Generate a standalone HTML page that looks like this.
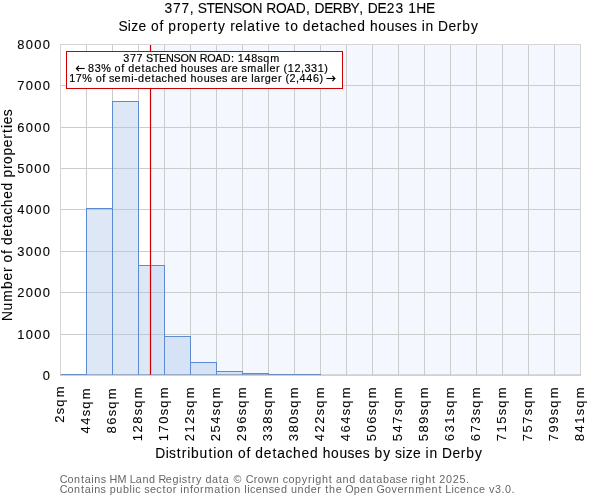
<!DOCTYPE html>
<html><head><meta charset="utf-8"><style>
html,body{margin:0;padding:0;background:#ffffff;}
body{width:600px;height:500px;overflow:hidden;}
svg{display:block;font-family:"Liberation Sans", sans-serif;will-change:transform;}
</style></head><body>
<svg width="600" height="500" viewBox="0 0 600 500">
<rect x="60" y="44" width="520" height="331" fill="#ffffff"/>
<rect x="151.0" y="44" width="429.0" height="331" fill="#f4f7fd"/>
<line x1="60" x2="580" y1="44.5" y2="44.5" stroke="#cccccc" stroke-width="1"/>
<line x1="60" x2="580" y1="85.5" y2="85.5" stroke="#cccccc" stroke-width="1"/>
<line x1="60" x2="580" y1="127.5" y2="127.5" stroke="#cccccc" stroke-width="1"/>
<line x1="60" x2="580" y1="168.5" y2="168.5" stroke="#cccccc" stroke-width="1"/>
<line x1="60" x2="580" y1="209.5" y2="209.5" stroke="#cccccc" stroke-width="1"/>
<line x1="60" x2="580" y1="251.5" y2="251.5" stroke="#cccccc" stroke-width="1"/>
<line x1="60" x2="580" y1="292.5" y2="292.5" stroke="#cccccc" stroke-width="1"/>
<line x1="60" x2="580" y1="334.5" y2="334.5" stroke="#cccccc" stroke-width="1"/>
<line x1="60.5" x2="60.5" y1="44" y2="375" stroke="#cccccc" stroke-width="1"/>
<line x1="86.5" x2="86.5" y1="44" y2="375" stroke="#cccccc" stroke-width="1"/>
<line x1="112.5" x2="112.5" y1="44" y2="375" stroke="#cccccc" stroke-width="1"/>
<line x1="138.5" x2="138.5" y1="44" y2="375" stroke="#cccccc" stroke-width="1"/>
<line x1="164.5" x2="164.5" y1="44" y2="375" stroke="#cccccc" stroke-width="1"/>
<line x1="190.5" x2="190.5" y1="44" y2="375" stroke="#cccccc" stroke-width="1"/>
<line x1="216.5" x2="216.5" y1="44" y2="375" stroke="#cccccc" stroke-width="1"/>
<line x1="242.5" x2="242.5" y1="44" y2="375" stroke="#cccccc" stroke-width="1"/>
<line x1="268.5" x2="268.5" y1="44" y2="375" stroke="#cccccc" stroke-width="1"/>
<line x1="294.5" x2="294.5" y1="44" y2="375" stroke="#cccccc" stroke-width="1"/>
<line x1="320.5" x2="320.5" y1="44" y2="375" stroke="#cccccc" stroke-width="1"/>
<line x1="346.5" x2="346.5" y1="44" y2="375" stroke="#cccccc" stroke-width="1"/>
<line x1="372.5" x2="372.5" y1="44" y2="375" stroke="#cccccc" stroke-width="1"/>
<line x1="398.5" x2="398.5" y1="44" y2="375" stroke="#cccccc" stroke-width="1"/>
<line x1="424.5" x2="424.5" y1="44" y2="375" stroke="#cccccc" stroke-width="1"/>
<line x1="450.5" x2="450.5" y1="44" y2="375" stroke="#cccccc" stroke-width="1"/>
<line x1="476.5" x2="476.5" y1="44" y2="375" stroke="#cccccc" stroke-width="1"/>
<line x1="502.5" x2="502.5" y1="44" y2="375" stroke="#cccccc" stroke-width="1"/>
<line x1="528.5" x2="528.5" y1="44" y2="375" stroke="#cccccc" stroke-width="1"/>
<line x1="554.5" x2="554.5" y1="44" y2="375" stroke="#cccccc" stroke-width="1"/>
<line x1="580.5" x2="580.5" y1="44" y2="375" stroke="#cccccc" stroke-width="1"/>
<rect x="60.5" y="374.5" width="26" height="0.5" fill="rgba(170,195,232,0.40)" stroke="#5b8bd0" stroke-width="1"/>
<rect x="86.5" y="208.5" width="26" height="166.5" fill="rgba(170,195,232,0.40)" stroke="#5b8bd0" stroke-width="1"/>
<rect x="112.5" y="101.5" width="26" height="273.5" fill="rgba(170,195,232,0.40)" stroke="#5b8bd0" stroke-width="1"/>
<rect x="138.5" y="265.5" width="26" height="109.5" fill="rgba(170,195,232,0.40)" stroke="#5b8bd0" stroke-width="1"/>
<rect x="164.5" y="336.5" width="26" height="38.5" fill="rgba(170,195,232,0.40)" stroke="#5b8bd0" stroke-width="1"/>
<rect x="190.5" y="362.5" width="26" height="12.5" fill="rgba(170,195,232,0.40)" stroke="#5b8bd0" stroke-width="1"/>
<rect x="216.5" y="371.5" width="26" height="3.5" fill="rgba(170,195,232,0.40)" stroke="#5b8bd0" stroke-width="1"/>
<rect x="242.5" y="373.5" width="26" height="1.5" fill="rgba(170,195,232,0.40)" stroke="#5b8bd0" stroke-width="1"/>
<rect x="268.5" y="374.5" width="26" height="0.5" fill="rgba(170,195,232,0.40)" stroke="#5b8bd0" stroke-width="1"/>
<rect x="294.5" y="374.5" width="26" height="0.5" fill="rgba(170,195,232,0.40)" stroke="#5b8bd0" stroke-width="1"/>
<line x1="150.5" x2="150.5" y1="44" y2="376" stroke="#cc0000" stroke-width="1.2"/>
<line x1="60.5" x2="60.5" y1="44" y2="376" stroke="#d5d5d5" stroke-width="1"/>
<line x1="580.5" x2="580.5" y1="44" y2="376" stroke="#d5d5d5" stroke-width="1"/>
<line x1="60" x2="581" y1="44.5" y2="44.5" stroke="#d5d5d5" stroke-width="1"/>
<line x1="60" x2="581" y1="375.5" y2="375.5" stroke="#d0d0d0" stroke-width="1"/>
<line x1="60" x2="581" y1="374.5" y2="374.5" stroke="rgba(150,150,150,0.3)" stroke-width="1"/>
<rect x="66.5" y="51.5" width="276" height="37" fill="#ffffff" stroke="#cc0000" stroke-width="1"/>
<text x="123.24 129.92 136.60 146.01 152.85 159.07 166.02 173.58 180.44 188.80 199.72 207.20 215.33 222.67 230.88 237.82 244.50 251.18 257.56 263.33 270.28" y="61.5" font-size="10.8" fill="#000000" stroke="#000000" stroke-width="0.18">377STENSONROAD:148sqm</text>
<text x="88.06 94.74 101.27 114.60 121.17 128.18 134.74 141.53 145.31 151.71 157.62 164.18 170.74 180.74 187.28 193.81 200.18 205.84 212.11 221.09 227.67 231.63 241.23 247.28 257.11 263.59 266.50 269.39 275.98 283.52 287.71 294.39 300.90 304.40 311.08 317.76 324.36" y="71.5" font-size="10.8" fill="#000000" stroke="#000000" stroke-width="0.18">83%ofdetachedhousesaresmaller(12,331)</text>
<text x="69.18 75.85 82.37 95.69 102.25 108.96 114.62 121.45 131.32 134.07 138.08 144.64 151.42 155.19 161.59 167.49 174.04 180.59 190.58 197.11 203.64 210.00 215.65 221.91 230.89 237.46 241.41 251.23 254.09 260.67 264.76 271.32 277.90 285.44 289.61 296.12 299.62 306.29 312.96 319.55" y="81.5" font-size="10.8" fill="#000000" stroke="#000000" stroke-width="0.18">17%ofsemi-detachedhousesarelarger(2,446)</text>
<path d="M84.7 68.5 H77.2" stroke="#000000" stroke-width="1.1" fill="none"/>
<path d="M78.9 65.9 L76.4 68.5 L78.9 71.1" stroke="#000000" stroke-width="1.2" fill="none"/>
<path d="M326.4 78.5 H334" stroke="#000000" stroke-width="1.1" fill="none"/>
<path d="M332.4 75.9 L334.9 78.5 L332.4 81.1" stroke="#000000" stroke-width="1.2" fill="none"/>
<text x="164.41 172.94 181.47 189.79 197.76 206.49 214.44 223.31 232.96 241.73 252.41 266.35 275.90 286.30 295.67 306.03 314.52 324.30 332.81 342.45 350.42 359.33 367.82 377.60 386.87 395.40 408.20 416.36 426.02" y="12.8" font-size="13.8" fill="#000000" stroke="#000000" stroke-width="0.1">377,STENSONROAD,DERBY,DE231HE</text>
<text x="118.57 127.77 131.24 138.51 151.01 159.40 168.37 176.93 181.97 190.33 198.73 207.16 212.93 218.00 230.15 235.21 243.51 247.18 255.85 260.73 264.65 272.36 285.31 290.13 302.77 311.16 319.84 324.67 332.86 340.42 348.80 357.19 369.98 378.34 386.70 394.84 402.08 410.09 421.64 425.46 438.00 448.45 456.87 462.36 470.98" y="30.8" font-size="13.8" fill="#000000" stroke="#000000" stroke-width="0.1">SizeofpropertyrelativetodetachedhousesinDerby</text>
<text x="17.21 25.70 34.18 42.66" y="49" font-size="12.9" fill="#000000" stroke="#000000" stroke-width="0.1">8000</text>
<text x="17.21 25.70 34.18 42.66" y="90" font-size="12.9" fill="#000000" stroke="#000000" stroke-width="0.1">7000</text>
<text x="17.21 25.70 34.18 42.66" y="132" font-size="12.9" fill="#000000" stroke="#000000" stroke-width="0.1">6000</text>
<text x="17.21 25.70 34.18 42.66" y="173" font-size="12.9" fill="#000000" stroke="#000000" stroke-width="0.1">5000</text>
<text x="17.21 25.70 34.18 42.66" y="214" font-size="12.9" fill="#000000" stroke="#000000" stroke-width="0.1">4000</text>
<text x="17.21 25.70 34.18 42.66" y="256" font-size="12.9" fill="#000000" stroke="#000000" stroke-width="0.1">3000</text>
<text x="17.21 25.70 34.18 42.66" y="297" font-size="12.9" fill="#000000" stroke="#000000" stroke-width="0.1">2000</text>
<text x="17.21 25.70 34.18 42.66" y="339" font-size="12.9" fill="#000000" stroke="#000000" stroke-width="0.1">1000</text>
<text x="42.66" y="380" font-size="12.9" fill="#000000" stroke="#000000" stroke-width="0.1">0</text>
<text transform="translate(63.5,422.51955566406247) rotate(-90)" x="-0.20 8.18 15.82 25.18" y="0" font-size="12.9" fill="#000000" stroke="#000000" stroke-width="0.1">2sqm</text>
<text transform="translate(89.5,433.669482421875) rotate(-90)" x="0.14 8.95 17.33 24.97 34.33" y="0" font-size="12.9" fill="#000000" stroke="#000000" stroke-width="0.1">44sqm</text>
<text transform="translate(115.5,433.4057373046875) rotate(-90)" x="-0.12 8.69 17.07 24.71 34.06" y="0" font-size="12.9" fill="#000000" stroke="#000000" stroke-width="0.1">86sqm</text>
<text transform="translate(141.5,440.63593749999995) rotate(-90)" x="-0.70 8.11 16.92 25.30 32.94 42.29" y="0" font-size="12.9" fill="#000000" stroke="#000000" stroke-width="0.1">128sqm</text>
<text transform="translate(167.5,440.63593749999995) rotate(-90)" x="-0.70 8.11 16.92 25.30 32.94 42.29" y="0" font-size="12.9" fill="#000000" stroke="#000000" stroke-width="0.1">170sqm</text>
<text transform="translate(193.5,441.14313964843745) rotate(-90)" x="-0.20 8.62 17.43 25.80 33.45 42.80" y="0" font-size="12.9" fill="#000000" stroke="#000000" stroke-width="0.1">212sqm</text>
<text transform="translate(219.5,441.14313964843745) rotate(-90)" x="-0.20 8.62 17.43 25.80 33.45 42.80" y="0" font-size="12.9" fill="#000000" stroke="#000000" stroke-width="0.1">254sqm</text>
<text transform="translate(245.5,441.14313964843745) rotate(-90)" x="-0.20 8.62 17.43 25.80 33.45 42.80" y="0" font-size="12.9" fill="#000000" stroke="#000000" stroke-width="0.1">296sqm</text>
<text transform="translate(271.5,441.10256347656247) rotate(-90)" x="-0.24 8.58 17.39 25.76 33.40 42.76" y="0" font-size="12.9" fill="#000000" stroke="#000000" stroke-width="0.1">338sqm</text>
<text transform="translate(297.5,441.10256347656247) rotate(-90)" x="-0.24 8.58 17.39 25.76 33.40 42.76" y="0" font-size="12.9" fill="#000000" stroke="#000000" stroke-width="0.1">380sqm</text>
<text transform="translate(323.5,441.48127441406245) rotate(-90)" x="0.14 8.95 17.77 26.14 33.78 43.14" y="0" font-size="12.9" fill="#000000" stroke="#000000" stroke-width="0.1">422sqm</text>
<text transform="translate(349.5,441.48127441406245) rotate(-90)" x="0.14 8.95 17.77 26.14 33.78 43.14" y="0" font-size="12.9" fill="#000000" stroke="#000000" stroke-width="0.1">464sqm</text>
<text transform="translate(375.5,441.0890380859375) rotate(-90)" x="-0.25 8.56 17.37 25.75 33.39 42.75" y="0" font-size="12.9" fill="#000000" stroke="#000000" stroke-width="0.1">506sqm</text>
<text transform="translate(401.5,441.0890380859375) rotate(-90)" x="-0.25 8.56 17.37 25.75 33.39 42.75" y="0" font-size="12.9" fill="#000000" stroke="#000000" stroke-width="0.1">547sqm</text>
<text transform="translate(427.5,441.0890380859375) rotate(-90)" x="-0.25 8.56 17.37 25.75 33.39 42.75" y="0" font-size="12.9" fill="#000000" stroke="#000000" stroke-width="0.1">589sqm</text>
<text transform="translate(453.5,441.190478515625) rotate(-90)" x="-0.15 8.66 17.48 25.85 33.49 42.85" y="0" font-size="12.9" fill="#000000" stroke="#000000" stroke-width="0.1">631sqm</text>
<text transform="translate(479.5,441.190478515625) rotate(-90)" x="-0.15 8.66 17.48 25.85 33.49 42.85" y="0" font-size="12.9" fill="#000000" stroke="#000000" stroke-width="0.1">673sqm</text>
<text transform="translate(505.5,441.0214111328125) rotate(-90)" x="-0.32 8.49 17.31 25.68 33.32 42.68" y="0" font-size="12.9" fill="#000000" stroke="#000000" stroke-width="0.1">715sqm</text>
<text transform="translate(531.5,441.0214111328125) rotate(-90)" x="-0.32 8.49 17.31 25.68 33.32 42.68" y="0" font-size="12.9" fill="#000000" stroke="#000000" stroke-width="0.1">757sqm</text>
<text transform="translate(557.5,441.0214111328125) rotate(-90)" x="-0.32 8.49 17.31 25.68 33.32 42.68" y="0" font-size="12.9" fill="#000000" stroke="#000000" stroke-width="0.1">799sqm</text>
<text transform="translate(583.5,441.217529296875) rotate(-90)" x="-0.12 8.69 17.50 25.88 33.52 42.88" y="0" font-size="12.9" fill="#000000" stroke="#000000" stroke-width="0.1">841sqm</text>
<text x="155.17 165.67 169.12 176.80 181.82 187.21 191.05 199.57 208.39 213.28 216.96 225.33 237.98 246.38 255.37 263.78 272.47 277.31 285.51 293.08 301.48 309.89 322.69 331.06 339.44 347.59 354.84 362.87 374.53 383.16 394.92 402.21 405.69 412.97 425.55 429.38 441.94 452.40 460.84 466.34 474.97" y="457.8" font-size="13.8" fill="#000000" stroke="#000000" stroke-width="0.1">DistributionofdetachedhousesbysizeinDerby</text>
<text transform="translate(12,319.8) rotate(-90)" x="-1.27 9.19 18.10 30.85 39.27 47.72 57.35 65.77 74.77 83.19 91.90 96.74 104.96 112.55 120.96 129.38 142.21 150.79 155.85 164.24 172.66 181.11 186.90 191.80 195.51 203.55" y="0" font-size="13.8" fill="#000000" stroke="#000000" stroke-width="0.1">Numberofdetachedproperties</text>
<text x="59.78 67.57 74.12 81.02 84.80 91.29 94.28 100.65 109.49 117.39 129.69 135.85 142.40 149.07 158.51 165.83 172.40 179.00 181.70 187.71 191.63 196.01 205.50 212.06 218.85 222.63 233.48 245.83 253.77 257.71 264.33 272.87 282.74 288.54 295.10 301.85 308.03 312.25 315.25 321.92 328.82 335.94 342.50 349.17 359.19 365.75 372.54 376.32 382.88 389.44 395.71 401.38 411.33 415.55 418.55 425.22 432.12 439.37 446.06 452.75 459.44 465.96" y="482.5" font-size="10.8" fill="#666666" stroke="#666666" stroke-width="0">ContainsHMLandRegistrydata©Crowncopyrightanddatabaseright2025.</text>
<text x="59.77 67.54 74.08 80.96 84.73 91.20 94.18 100.54 109.64 116.29 122.95 129.54 132.45 135.29 144.25 149.90 156.32 162.46 166.22 172.79 180.34 183.32 189.99 193.55 200.12 204.50 214.32 221.09 224.91 227.77 234.30 244.22 247.14 249.98 255.79 262.34 268.70 274.36 280.92 290.90 297.55 304.21 310.77 317.35 325.20 329.08 335.63 345.13 353.78 360.34 366.89 376.42 384.89 391.51 397.53 404.12 408.21 415.15 424.99 431.54 438.42 445.23 451.42 454.26 460.07 466.62 473.13 478.94 488.91 495.05 501.55 505.06 511.56" y="493.2" font-size="10.8" fill="#666666" stroke="#666666" stroke-width="0">ContainspublicsectorinformationlicensedundertheOpenGovernmentLicencev3.0.</text>
</svg>
</body></html>
